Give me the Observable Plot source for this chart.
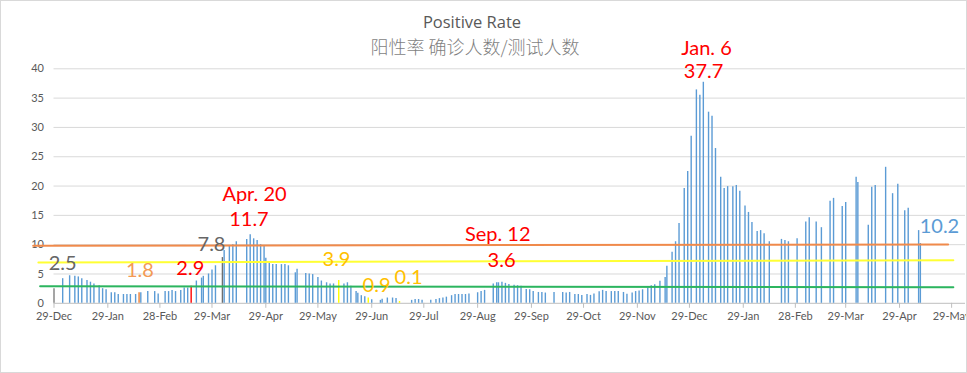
<!DOCTYPE html>
<html>
<head>
<meta charset="utf-8">
<script src="https://cdn.jsdelivr.net/npm/d3@7"></script>
<script src="https://cdn.jsdelivr.net/npm/@observablehq/plot@0.6"></script>
<style>
  html, body { margin: 0; padding: 0; background: #fff; }
  #wrap { position: relative; width: 967px; height: 373px; overflow: hidden; background: #fff; }
  #frame { position: absolute; left: 0; top: 0; width: 967px; height: 373px; box-sizing: border-box; border: 1px solid #d9d9d9; pointer-events: none; }
  #title { position: absolute; left: 0; width: 944px; top: 11px; text-align: center; font-family: "Open Sans", sans-serif; font-size: 16.5px; color: #595959; line-height: 22px; font-weight: 400; }
  #subtitle { position: absolute; left: 0; width: 950px; top: 34px; text-align: center; font-family: "Noto Sans CJK SC", sans-serif; font-size: 18px; color: #7f7f7f; line-height: 24px; font-weight: 300; }
  #chart { position: absolute; left: 0; top: 0; }
</style>
</head>
<body>
<div id="wrap">
  <div id="chart"></div>
  <div id="title">Positive Rate</div>
  <div id="subtitle">阳性率 确诊人数/测试人数</div>
  <div id="frame"></div>
</div>
<script>
// ---- data ----
const barDates = [
  "2019-12-29","2020-01-03","2020-01-07","2020-01-10","2020-01-12","2020-01-14","2020-01-17","2020-01-19","2020-01-21","2020-01-24",
  "2020-01-26","2020-01-28","2020-01-31","2020-02-02","2020-02-04","2020-02-07","2020-02-09","2020-02-11","2020-02-14","2020-02-16",
  "2020-02-17","2020-02-21","2020-02-25","2020-02-27","2020-03-02","2020-03-04","2020-03-06","2020-03-08","2020-03-11","2020-03-13",
  "2020-03-15","2020-03-17","2020-03-20","2020-03-23","2020-03-24","2020-03-27","2020-03-29","2020-03-31","2020-04-04","2020-04-05",
  "2020-04-08","2020-04-10","2020-04-12","2020-04-18","2020-04-20","2020-04-22","2020-04-24","2020-04-26","2020-04-28","2020-04-29",
  "2020-05-01","2020-05-03","2020-05-05","2020-05-08","2020-05-10","2020-05-12","2020-05-16","2020-05-17","2020-05-22","2020-05-24",
  "2020-05-26","2020-05-29","2020-05-31","2020-06-03","2020-06-05","2020-06-07","2020-06-10","2020-06-13","2020-06-15","2020-06-17",
  "2020-06-20","2020-06-21","2020-06-23","2020-06-25","2020-06-27","2020-06-29","2020-07-04","2020-07-05","2020-07-08","2020-07-11",
  "2020-07-13","2020-07-15","2020-07-22","2020-07-24","2020-07-26","2020-07-28","2020-08-02","2020-08-05","2020-08-07","2020-08-09",
  "2020-08-11","2020-08-14","2020-08-16","2020-08-18","2020-08-20","2020-08-22","2020-08-24","2020-08-29","2020-08-31","2020-09-02",
  "2020-09-07","2020-09-09","2020-09-10","2020-09-12","2020-09-14","2020-09-16","2020-09-19","2020-09-21","2020-09-23","2020-09-26",
  "2020-09-28","2020-09-30","2020-10-03","2020-10-05","2020-10-07","2020-10-12","2020-10-17","2020-10-19","2020-10-21","2020-10-24",
  "2020-10-26","2020-10-28","2020-10-31","2020-11-02","2020-11-04","2020-11-07","2020-11-09","2020-11-11","2020-11-14","2020-11-16",
  "2020-11-18","2020-11-21","2020-11-23","2020-11-26","2020-11-28","2020-11-30","2020-12-02","2020-12-05","2020-12-07","2020-12-09",
  "2020-12-12","2020-12-15","2020-12-16","2020-12-19","2020-12-21","2020-12-23","2020-12-26","2020-12-28","2020-12-30","2021-01-02",
  "2021-01-04","2021-01-06","2021-01-09","2021-01-11","2021-01-13","2021-01-16","2021-01-18","2021-01-20","2021-01-23","2021-01-25",
  "2021-01-27","2021-01-30","2021-02-01","2021-02-03","2021-02-06","2021-02-08","2021-02-10","2021-02-13","2021-02-20","2021-02-22",
  "2021-02-24","2021-03-01","2021-03-06","2021-03-08","2021-03-12","2021-03-15","2021-03-20","2021-03-22","2021-03-27","2021-03-29",
  "2021-04-04","2021-04-05","2021-04-11","2021-04-13","2021-04-15","2021-04-21","2021-04-25","2021-04-28","2021-05-02","2021-05-04",
  "2021-05-10","2021-05-11"
];
const barRates = [
  2.5, 4.2, 4.7, 4.6, 4.5, 4.2, 3.9, 3.6, 3.3, 3.0,
  2.5, 2.3, 1.8, 1.8, 1.5, 1.5, 1.5, 1.5, 1.5, 1.8,
  1.8, 2.0, 2.0, 1.6, 2.0, 2.0, 2.2, 2.0, 2.2, 2.6,
  2.6, 2.9, 3.8, 4.3, 4.6, 5.0, 5.7, 6.4, 7.8, 9.0,
  9.7, 10.0, 10.5, 10.9, 11.7, 11.0, 10.7, 10.0, 9.8, 7.7,
  7.0, 6.6, 6.6, 6.6, 6.6, 6.4, 5.2, 5.8, 5.1, 5.0,
  4.9, 4.4, 3.8, 3.5, 3.3, 3.3, 3.9, 3.3, 3.5, 2.9,
  2.0, 1.7, 1.3, 1.1, 0.9, 0.6, 0.5, 0.7, 0.9, 0.9,
  0.8, 0.3, 0.5, 0.65, 0.65, 0.5, 0.5, 0.65, 0.8, 0.9,
  1.05, 1.3, 1.5, 1.5, 1.5, 1.5, 1.6, 1.8, 2.0, 2.2,
  3.3, 3.5, 3.5, 3.6, 3.4, 3.2, 3.1, 3.0, 2.9, 2.35,
  2.3, 2.0, 1.85, 1.85, 1.75, 1.85, 1.85, 1.75, 1.85, 1.5,
  1.5, 1.35, 1.5, 1.35, 1.6, 1.95, 2.2, 2.0, 2.0, 2.0,
  2.0, 1.85, 1.55, 1.75, 2.0, 2.1, 2.3, 2.6, 3.0, 3.15,
  3.75, 4.4, 6.3, 8.7, 10.5, 13.6, 19.6, 22.5, 28.5, 36.4,
  35.5, 37.7, 32.6, 31.9, 26.4, 21.5, 19.6, 19.9, 19.9, 20.1,
  19.1, 16.6, 15.5, 13.8, 12.25, 12.4, 11.85, 10.5, 10.9, 10.7,
  10.5, 11.0, 13.85, 14.6, 13.85, 12.9, 17.4, 17.9, 16.5, 17.2,
  21.5, 20.6, 13.3, 19.8, 20.1, 23.2, 18.7, 20.3, 15.8, 16.2,
  12.4, 10.2
];
// highlighted (annotated) days
const highlightDates = ["2019-12-29","2020-02-16","2020-03-17","2020-04-04","2020-06-10","2020-06-27","2020-07-15"];

// reference (trend) lines: start / end
const refStartDates = ["2019-12-17","2019-12-20","2019-12-21"];
const refEndDates   = ["2021-05-27","2021-05-30","2021-05-30"];
const refStartVals  = [9.8, 6.96, 2.92];
const refEndVals    = [10.05, 7.36, 2.75];

// annotations
const annoText  = ["2.5","1.8","2.9","7.8","Apr. 20","11.7","3.9","0.9","0.1","Sep. 12","3.6","Jan. 6","37.7","10.2"];
const annoDates = ["2020-01-03","2020-02-16T12:00Z","2020-03-16T12:00Z","2020-03-28T17:00Z","2020-04-22T12:00Z","2020-04-19T07:00Z",
                   "2020-06-08T17:00Z","2020-07-01T19:00Z","2020-07-20T05:00Z","2020-09-09T14:00Z","2020-09-11T19:00Z",
                   "2021-01-07T19:00Z","2021-01-06T03:00Z","2021-05-22"];
const annoVals  = [6.7, 5.6, 6.0, 9.95, 18.6, 14.35, 7.5, 3.04, 4.3, 11.65, 7.2, 43.5, 39.5, 13.1];

// axis ticks
const tickDates  = ["2019-12-29","2020-01-29","2020-02-28","2020-03-29","2020-04-29","2020-05-29","2020-06-29","2020-07-29","2020-08-29",
                    "2020-09-29","2020-10-29","2020-11-29","2020-12-29","2021-01-29","2021-02-28","2021-03-29","2021-04-29","2021-05-29"];
const tickLabels = ["29-Dec","29-Jan","28-Feb","29-Mar","29-Apr","29-May","29-Jun","29-Jul","29-Aug",
                    "29-Sep","29-Oct","29-Nov","29-Dec","29-Jan","28-Feb","29-Mar","29-Apr","29-May"];
const yTicks = [0, 5, 10, 15, 20, 25, 30, 35, 40];

// ---- styles ----
const barBlue = "#5b9bd5";
const highlightColors = ["#7f7f7f","#ed7d31","#ff0000","#6f6f6f","#ffff00","#ffff00","#ffff00"];
const refColors = ["#f08a4b","#ffff33","#2cb55f"];
const annoColors = ["#666666","#f39a55","#ff0000","#666666","#ff0000","#ff0000","#ffc000","#ffc000","#ffc000","#ff0000","#ff0000","#ff0000","#ff0000","#5b9bd5"];

// ---- build tables ----
const hlMap = new Map(highlightDates.map((d, i) => [d, highlightColors[i]]));
const bars = barDates.map((d, i) => ({date: new Date(d), value: barRates[i], color: hlMap.get(d) || barBlue}));
const refs = [];
refStartDates.forEach((d, i) => {
  refs.push({date: new Date(d), value: refStartVals[i], k: i});
  refs.push({date: new Date(refEndDates[i]), value: refEndVals[i], k: i});
});
const annos = annoText.map((t, i) => ({text: t, date: new Date(annoDates[i]), value: annoVals[i], color: annoColors[i]}));
const ticks = tickDates.map(d => new Date(d));
const tickLabelMap = new Map(tickDates.map((d, i) => [+new Date(d), tickLabels[i]]));

const chart = Plot.plot({
  width: 967,
  height: 373,
  marginLeft: 53.5,
  marginRight: 2,
  marginTop: 68.3,
  marginBottom: 70.2,
  style: {fontFamily: "Lato, sans-serif", background: "transparent"},
  x: {type: "utc", domain: [new Date("2019-12-29"), new Date("2021-06-06")]},
  y: {domain: [0, 40]},
  marks: [
    Plot.ruleY(yTicks.filter(v => v > 0), {stroke: "#d9d9d9", strokeWidth: 1}),
    Plot.ruleY([0], {stroke: "#bfbfbf", strokeWidth: 1}),
    Plot.axisY(yTicks, {tickSize: 0, tickPadding: 10, fontSize: 11, fill: "#595959", label: null}),
    Plot.axisX(ticks, {tickSize: 5, tickPadding: 4, fontSize: 11, stroke: "#bfbfbf", fill: "#595959", label: null,
                       tickFormat: d => tickLabelMap.get(+d)}),
    Plot.ruleX(bars, {x: "date", y1: 0, y2: "value", stroke: "color", strokeWidth: 1.4}),
    Plot.line(refs, {x: "date", y: "value", z: "k", stroke: d => refColors[d.k], strokeWidth: 2}),
    Plot.text(annos, {x: "date", y: "value", text: "text", fill: "color", fontSize: 20, fontFamily: "Lato, sans-serif"})
  ]
});
document.getElementById("chart").appendChild(chart);
</script>
</body>
</html>
